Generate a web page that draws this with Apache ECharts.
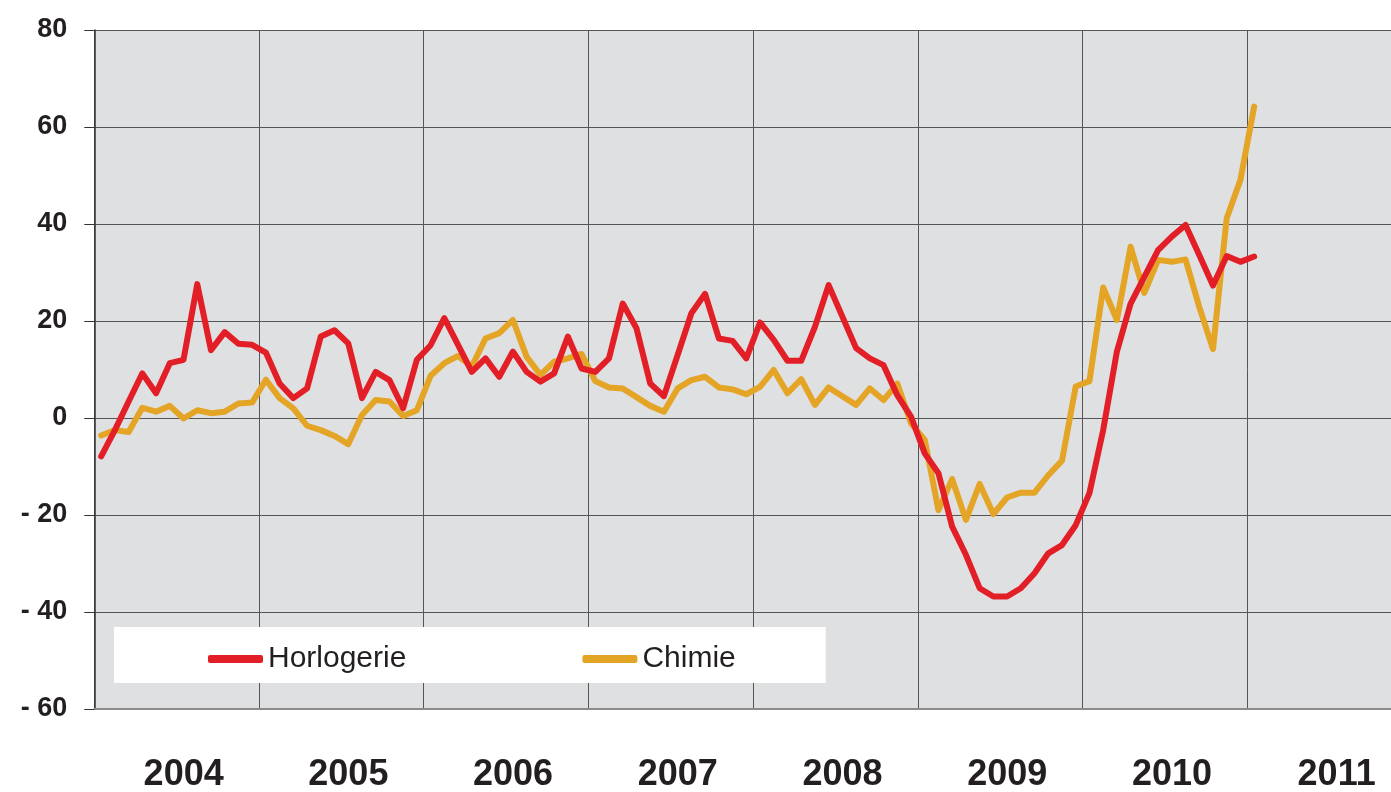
<!DOCTYPE html>
<html>
<head>
<meta charset="utf-8">
<script src="https://cdn.jsdelivr.net/npm/echarts@6/dist/echarts.min.js"></script>
<style>
html,body{margin:0;padding:0;background:#fff;overflow:hidden;width:1391px;height:792px;}
#chart{width:1412px;height:792px;}
</style>
</head>
<body>
<div id="chart"></div>
<script>
// Years shown on the horizontal axis
const years = ['2004','2005','2006','2007','2008','2009','2010','2011'];
// Monthly categories (Jan 2004 .. Dec 2011)
const months = [];
years.forEach(function(y){ for (let m = 1; m <= 12; m++) months.push(y + '-' + (m < 10 ? '0' + m : m)); });

// Y axis ticks
const yMin = -60, yMax = 80, yStep = 20;

// Series values (Jan 2004 .. Jan 2011)
const horlogerie = [
  -7.9, -2.5, 3.4, 9.2, 5.1, 11.3, 12.0, 27.6, 14.0, 17.7, 15.3, 15.1,
  13.5, 7.1, 4.1, 6.1, 16.8, 18.1, 15.4, 4.1, 9.5, 7.8, 2.0, 12.0,
  15.0, 20.6, 15.1, 9.5, 12.3, 8.5, 13.7, 9.5, 7.5, 9.2, 16.8, 10.2,
  9.5, 12.3, 23.6, 18.5, 7.1, 4.5, 13.0, 21.6, 25.6, 16.4, 15.9, 12.3,
  19.7, 16.1, 11.8, 11.8, 18.8, 27.4, 20.9, 14.4, 12.3, 10.9, 4.7, 0.3,
  -7.3, -11.4, -22.4, -28.2, -35.1, -36.8, -36.8, -35.1, -32.0, -27.9, -26.2, -22.1,
  -15.5, -2.5, 13.7, 23.6, 29.1, 34.6, 37.4, 39.8, 33.6, 27.3, 33.4, 32.2,
  33.3
];
const chimie = [
  -3.6, -2.5, -2.9, 2.1, 1.3, 2.5, -0.1, 1.6, 1.0, 1.3, 3.0, 3.2,
  7.9, 4.1, 2.0, -1.6, -2.5, -3.7, -5.4, 0.6, 3.7, 3.4, 0.4, 1.6,
  8.7, 11.3, 12.8, 10.6, 16.4, 17.5, 20.2, 12.6, 8.9, 11.6, 12.3, 13.2,
  7.6, 6.3, 6.1, 4.3, 2.5, 1.3, 6.1, 7.8, 8.5, 6.3, 5.9, 4.9,
  6.4, 9.9, 5.1, 8.0, 2.7, 6.3, 4.5, 2.7, 6.1, 3.7, 7.1, -1.1,
  -4.5, -19.0, -12.6, -21.0, -13.6, -19.8, -16.4, -15.4, -15.4, -11.8, -8.8, 6.5,
  7.6, 26.9, 20.2, 35.3, 25.8, 32.6, 32.2, 32.7, 22.9, 14.2, 41.2, 49.1,
  64.2
];

const seriesNames = ['Horlogerie', 'Chimie'];
const seriesColors = ['#E21F26', '#E4A425'];

const chart = echarts.init(document.getElementById('chart'), null, {renderer: 'canvas'});
const textColor = '#231F20';

chart.setOption({
  animation: false,
  backgroundColor: '#ffffff',
  grid: {
    left: 94.3, top: 30, right: 0, bottom: 83,
    outerBoundsMode: 'none',
    show: true, backgroundColor: '#DFE0E2', borderWidth: 0
  },
  legend: {
    left: 114, top: 627,
    orient: 'horizontal',
    backgroundColor: '#ffffff',
    padding: [12, 90, 4, 94],
    itemGap: 176,
    itemWidth: 55, itemHeight: 8,
    icon: 'roundRect',
    data: seriesNames,
    textStyle: {
      fontFamily: '"Liberation Sans", Arial, sans-serif',
      fontSize: 30, color: textColor, lineHeight: 40
    }
  },
  xAxis: [
    {
      type: 'category', data: months, show: false, boundaryGap: true
    },
    {
      type: 'category', data: years, boundaryGap: true, position: 'bottom',
      axisLine: {show: true, lineStyle: {color: '#8C8C8C', width: 2}},
      axisTick: {show: false},
      splitLine: {show: true, interval: 0, lineStyle: {color: '#555555', width: 1}},
      axisLabel: {
        interval: 0, margin: 48, color: textColor,
        fontFamily: '"Liberation Sans", Arial, sans-serif',
        fontWeight: 'bold', fontSize: 36, padding: [0, 0, 0, 14]
      }
    }
  ],
  yAxis: {
    type: 'value', min: yMin, max: yMax, interval: yStep,
    axisLine: {show: true, lineStyle: {color: '#333333', width: 1.5}},
    axisTick: {show: true, inside: false, length: 10, lineStyle: {color: '#333333', width: 1}},
    splitLine: {show: true, lineStyle: {color: '#555555', width: 1.2}},
    axisLabel: {
      margin: 27, color: textColor,
      fontFamily: '"Liberation Sans", Arial, sans-serif',
      fontWeight: 'bold', fontSize: 27,
      formatter: function (v) { return v < 0 ? '- ' + Math.abs(v) : String(v); }
    }
  },
  series: [
    {
      name: seriesNames[0], type: 'line', xAxisIndex: 0, data: horlogerie,
      symbol: 'none', smooth: false, color: seriesColors[0],
      lineStyle: {width: 6, color: seriesColors[0], join: 'round', cap: 'round'},
      z: 3
    },
    {
      name: seriesNames[1], type: 'line', xAxisIndex: 0, data: chimie,
      symbol: 'none', smooth: false, color: seriesColors[1],
      lineStyle: {width: 6, color: seriesColors[1], join: 'round', cap: 'round'},
      z: 2
    }
  ]
});
</script>
</body>
</html>
